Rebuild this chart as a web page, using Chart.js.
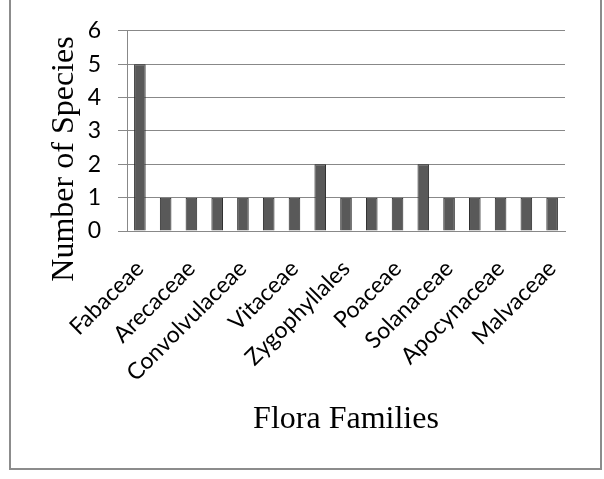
<!DOCTYPE html>
<html>
<head>
<meta charset="utf-8">
<script src="https://cdn.jsdelivr.net/npm/chart.js@4/dist/chart.umd.min.js"></script>
<style>
  html, body { margin: 0; padding: 0; background: #fff; overflow: hidden; }
  #wrap { position: relative; width: 604px; height: 479px; }
  #frame { position: absolute; left: 9px; top: -10px; width: 593px; height: 480px; border: 2px solid #8c8c8c; box-sizing: border-box; }
  canvas { position: absolute; left: 0; top: 0; }
</style>
</head>
<body>
<div id="wrap">
  <div id="frame"></div>
  <canvas id="c" width="604" height="479"></canvas>
</div>
<script>
// Categories (only every other label is printed in the original; unlabeled ones are left blank)
const categories = [
  "Fabaceae", "", "Arecaceae", "", "Convolvulaceae", "", "Vitaceae", "",
  "Zygophyllales", "", "Poaceae", "", "Solanaceae", "", "Apocynaceae", "", "Malvaceae"
];
const speciesCounts = [5, 1, 1, 1, 1, 1, 1, 2, 1, 1, 1, 2, 1, 1, 1, 1, 1];
const yTicks = [0, 1, 2, 3, 4, 5, 6];
const xTitle = "Flora Families";
const yTitle = "Number of Species";

const tickFont = { family: "Lato", size: 23 };
const titleFont = { family: "Liberation Serif", size: 32 };

// Draws the vertical axis title centred where the original places it
const yTitlePlugin = {
  id: "yTitle",
  afterDraw(chart) {
    const ctx = chart.ctx;
    ctx.save();
    ctx.translate(65, 159);
    ctx.rotate(-Math.PI / 2);
    ctx.font = titleFont.size + "px '" + titleFont.family + "'";
    ctx.fillStyle = "#000";
    ctx.textAlign = "center";
    ctx.textBaseline = "middle";
    ctx.fillText(yTitle, 0, 0);
    ctx.restore();
  }
};

new Chart(document.getElementById("c"), {
  type: "bar",
  data: {
    labels: categories,
    datasets: [{
      data: speciesCounts,
      backgroundColor: "#595959",
      borderColor: "#2b2b2b",
      borderWidth: 1,
      barPercentage: 0.45,
      categoryPercentage: 1.0
    }]
  },
  options: {
    responsive: false,
    devicePixelRatio: 1,
    animation: false,
    layout: { padding: { top: 28, right: 39, left: 0, bottom: 0 } },
    plugins: { legend: { display: false }, tooltip: { enabled: false } },
    scales: {
      x: {
        grid: { display: false, drawTicks: false },
        border: { display: true, color: "#888", width: 1 },
        ticks: {
          autoSkip: false, maxRotation: 45, minRotation: 45,
          font: tickFont, color: "#000", padding: 24
        },
        title: { display: true, text: xTitle, font: titleFont, color: "#000", padding: { top: 0, bottom: 40 } },
        afterFit: (s) => { s.height = 248; }
      },
      y: {
        min: yTicks[0], max: yTicks[yTicks.length - 1],
        afterBuildTicks: (s) => { s.ticks = yTicks.map(v => ({ value: v })); },
        grid: { color: "#888", lineWidth: 1, tickLength: 9, drawTicks: true },
        border: { display: true, color: "#888", width: 1 },
        ticks: { font: tickFont, color: "#000", padding: 17 },
        title: { display: false, text: yTitle },
        afterFit: (s) => { s.width = 127; }
      }
    }
  },
  plugins: [yTitlePlugin]
});
</script>
</body>
</html>
